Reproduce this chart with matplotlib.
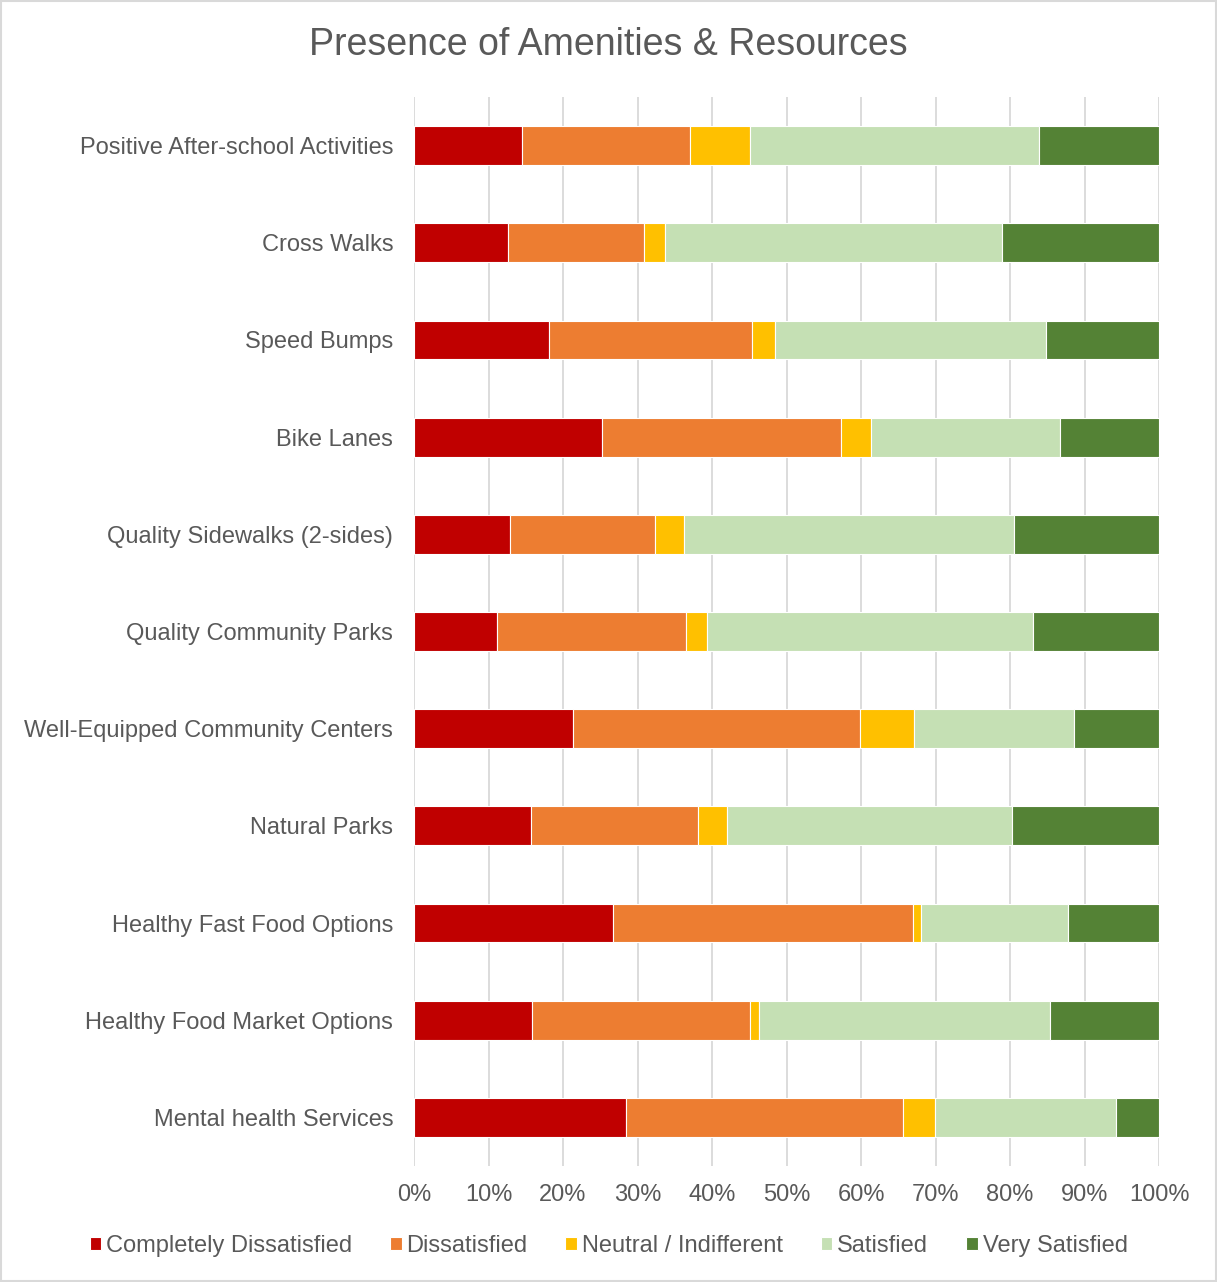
import matplotlib.pyplot as plt
import numpy as np

plt.rcParams['font.family'] = ['Liberation Sans', 'DejaVu Sans']

categories = [
    "Positive After-school Activities",
    "Cross Walks",
    "Speed Bumps",
    "Bike Lanes",
    "Quality Sidewalks (2-sides)",
    "Quality Community Parks",
    "Well-Equipped Community Centers",
    "Natural Parks",
    "Healthy Fast Food Options",
    "Healthy Food Market Options",
    "Mental health Services",
]

# percent of respondents per rating, one list per rating
completely_dissatisfied = [14.5, 12.6, 18.1, 25.2, 12.9, 11.1, 21.3, 15.7, 26.7, 15.8, 28.5]
dissatisfied = [22.5, 18.3, 27.3, 32.1, 19.4, 25.4, 38.6, 22.4, 40.3, 29.3, 37.1]
neutral = [8.1, 2.8, 3.1, 4.0, 3.9, 2.8, 7.2, 3.9, 1.1, 1.2, 4.3]
satisfied = [38.8, 45.2, 36.3, 25.4, 44.3, 43.8, 21.5, 38.3, 19.7, 39.1, 24.3]
very_satisfied = [16.1, 21.1, 15.2, 13.3, 19.5, 16.9, 11.4, 19.7, 12.2, 14.6, 5.8]

series = [
    ("Completely Dissatisfied", completely_dissatisfied, "#c00000"),
    ("Dissatisfied", dissatisfied, "#ed7d31"),
    ("Neutral / Indifferent", neutral, "#ffc000"),
    ("Satisfied", satisfied, "#c5e0b4"),
    ("Very Satisfied", very_satisfied, "#548235"),
]

text_color = "#595959"

fig = plt.figure(figsize=(12.17, 12.82), dpi=100)
ax = fig.add_axes([0.3402, 0.0905, 0.6122, 0.8338])

y = np.arange(len(categories))
left = np.zeros(len(categories))
for name, vals, color in series:
    vals = np.array(vals)
    ax.barh(y, vals, left=left, height=0.4, color=color, label=name,
            edgecolor="white", linewidth=0.8, zorder=3)
    left += vals

ax.set_xlim(0, 100)
ax.set_ylim(len(categories) - 0.5, -0.5)
ax.set_yticks(y)
ax.set_yticklabels(categories)
ax.set_xticks(np.arange(0, 101, 10))
ax.set_xticklabels(["%d%%" % v for v in range(0, 101, 10)])
ax.tick_params(axis="y", length=0, pad=15, labelsize=17, labelcolor=text_color)
ax.tick_params(axis="x", length=0, pad=13, labelsize=17, labelcolor=text_color)
ax.grid(axis="x", color="#d9d9d9", linewidth=1.3, zorder=0)
for s in ax.spines.values():
    s.set_visible(False)

fig.suptitle("Presence of Amenities & Resources", y=0.979, fontsize=27, color=text_color)

fig.legend(loc="center", bbox_to_anchor=(0.5, 0.028), ncol=5, frameon=False,
           fontsize=17, labelcolor=text_color, handlelength=0.5, handleheight=0.5,
           handletextpad=0.2, columnspacing=1.6)

# thin border round the whole figure
fig.patches.append(plt.Rectangle((0.001, 0.001), 0.998, 0.998, transform=fig.transFigure,
                                 fill=False, edgecolor="#d9d9d9", linewidth=1.5))

fig.savefig("out.png", dpi=100)
